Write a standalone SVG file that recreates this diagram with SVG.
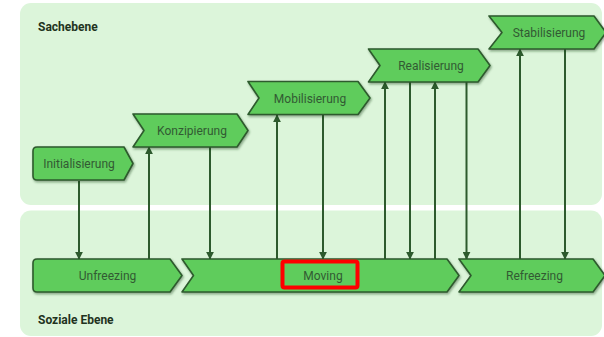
<svg xmlns="http://www.w3.org/2000/svg" width="604" height="337" viewBox="0 0 604 337">
  <defs>
    <filter id="shadow" x="-10%" y="-20%" width="130%" height="160%">
      <feDropShadow dx="1" dy="1.5" stdDeviation="0.8" flood-color="#1c3a1c" flood-opacity="0.45"/>
    </filter>
    <marker id="arrow" viewBox="0 0 10 10" refX="9" refY="5" markerWidth="8" markerHeight="8" orient="auto" markerUnits="userSpaceOnUse">
      <path d="M0,0 L10,5 L0,10 Z" fill="#2d5a2d"/>
    </marker>
    <style>
      .panel { fill: #dcf5da; }
      .lane-title { font-family: Roboto, "Liberation Sans", sans-serif; font-size: 12px; font-weight: bold; fill: #1f3320; }
      .step { fill: #5fcc5c; stroke: #2d5a2d; stroke-width: 1.6; stroke-linejoin: round; filter: url(#shadow); }
      .label { font-family: Roboto, "Liberation Sans", sans-serif; font-size: 12px; fill: #325a33; text-anchor: middle; }
      .link { stroke: #2d5a2d; stroke-width: 2; fill: none; marker-end: url(#arrow); }
      .focus { fill: none; stroke: #ff0000; stroke-width: 4; }
    </style>
  </defs>

  <!-- swimlanes -->
  <g id="lane-sachebene">
    <rect class="panel" x="20" y="3" width="582" height="202" rx="11"/>
    <text class="lane-title" x="38" y="31">Sachebene</text>
  </g>
  <g id="lane-soziale-ebene">
    <rect class="panel" x="20" y="210.5" width="582" height="125.5" rx="11"/>
    <text class="lane-title" x="38" y="324">Soziale Ebene</text>
  </g>

  <!-- connectors -->
  <g id="connectors">
    <line class="link" x1="79" y1="181" x2="79" y2="259"/>
    <line class="link" x1="149" y1="259" x2="149" y2="147"/>
    <line class="link" x1="210" y1="147" x2="210" y2="259"/>
    <line class="link" x1="277" y1="259" x2="277" y2="115"/>
    <line class="link" x1="323" y1="115" x2="323" y2="259"/>
    <line class="link" x1="385" y1="259" x2="385" y2="82"/>
    <line class="link" x1="410" y1="82" x2="410" y2="259"/>
    <line class="link" x1="435" y1="259" x2="435" y2="82"/>
    <line class="link" x1="466.5" y1="82" x2="466.5" y2="259"/>
    <line class="link" x1="520" y1="259" x2="520" y2="49"/>
    <line class="link" x1="565" y1="49" x2="565" y2="259"/>
  </g>

  <!-- Sachebene steps -->
  <g id="initialisierung">
    <path class="step" d="M37,147 H124 L133,163.5 L124,180 H37 Q33,180 33,176 V151 Q33,147 37,147 Z"/>
    <text class="label" x="79" y="168">Initialisierung</text>
  </g>
  <g id="konzipierung">
    <path class="step" d="M133,114 H237 L248,130.5 L237,147 H133 L144,130.5 Z"/>
    <text class="label" x="192" y="135">Konzipierung</text>
  </g>
  <g id="mobilisierung">
    <path class="step" d="M248,81.5 H358 L370,98 L358,114.5 H248 L259,98 Z"/>
    <text class="label" x="310" y="102.5">Mobilisierung</text>
  </g>
  <g id="realisierung">
    <path class="step" d="M368.5,49 H478 L490,65.5 L478,82 H368.5 L380,65.5 Z"/>
    <text class="label" x="431" y="70">Realisierung</text>
  </g>
  <g id="stabilisierung">
    <path class="step" d="M489,16 H594 L606,32.5 L594,49 H489 L502,32.5 Z"/>
    <text class="label" x="549" y="37">Stabilisierung</text>
  </g>

  <!-- Soziale Ebene phases -->
  <g id="unfreezing">
    <path class="step" d="M37,259 H170 L182,275.5 L170,292 H37 Q33,292 33,288 V263 Q33,259 37,259 Z"/>
    <text class="label" x="107.5" y="280">Unfreezing</text>
  </g>
  <g id="moving">
    <path class="step" d="M182,259 H447 L459,275.5 L447,292 H182 L193.5,275.5 Z"/>
    <text class="label" x="323" y="280">Moving</text>
    <rect class="focus" x="282.5" y="261.5" width="75" height="26" rx="2"/>
  </g>
  <g id="refreezing">
    <path class="step" d="M459,259 H593 L605,275.5 L593,292 H459 L471,275.5 Z"/>
    <text class="label" x="534.5" y="280">Refreezing</text>
  </g>
</svg>
